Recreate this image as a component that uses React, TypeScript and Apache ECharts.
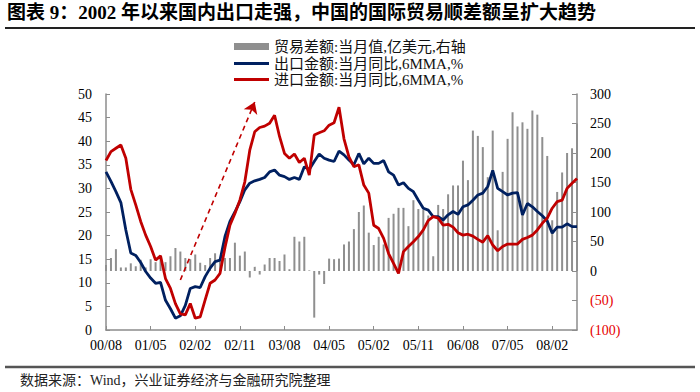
import React, { useEffect, useRef } from "react";
import * as echarts from "echarts";

// Monthly categories from 2000/08 to 2008/07
const months: string[] = [];
for (let i = 0; i < 96; i++) {
  const y = 2000 + Math.floor((7 + i) / 12);
  const m = ((7 + i) % 12) + 1;
  months.push(`${String(y % 100).padStart(2, "0")}/${String(m).padStart(2, "0")}`);
}

const seriesNames = [
  "贸易差额:当月值,亿美元,右轴",
  "出口金额:当月同比,6MMA,%",
  "进口金额:当月同比,6MMA,%",
];

// 贸易差额 (亿美元, right axis)
const tradeBalance = [
  10, 22, 37, 6, 6, 13, 8, 19, 6, 20, 15, 22,
  15, 25, 39, 33, 22, 20, 28, 14, 10, 22, 30, 22,
  22, 22, 48, 26, 33, -11, 7, -6, 11, 22, 22, 17,
  28, 3, 58, 50, 58, 1, -79, -6, -22, 21, 20, 21,
  45, 50, 71, 100, 111, 65, 44, 58, 45, 90, 97, 107,
  107, 76, 120, 105, 104, 94, 25, 112, 105, 130, 145, 145,
  187, 154, 238, 229, 210, 159, 238, 69, 168, 224, 269, 245,
  252, 241, 272, 265, 227, 195, 86, 134, 167, 200, 208, 250,
];

// 出口金额 同比 6MMA (%)
const exportYoY = [
  33.5, 31.5, 29.3, 27, 21.2, 16.3, 15.8, 14.3, 12.4, 11, 9.9, 10.1,
  6.3, 4.5, 2.5, 3, 5.2, 8.8, 9.2, 9, 11.3, 13.1, 14.5, 14.8,
  19.8, 23, 25, 27.2, 29.7, 31.1, 31.6, 31.9, 32.3, 33.5, 33.9, 32.8,
  32.5, 31.9, 32.3, 31.9, 34.6, 34, 35.7, 37.3, 36.4, 36, 35.7, 37.9,
  37.1, 36, 35, 37.4, 35.2, 36.4, 35.3, 35.3, 35.9, 33.5, 32.8, 30.7,
  31.2, 30, 29.3, 27.5, 25.8, 25.4, 24, 24, 23.3, 24.4, 25.1, 24.5,
  26.1, 26.5, 27.5, 28.6, 29, 30.4, 33.8, 30, 29.3, 28.6, 29, 29.1,
  24.4, 26.8, 26.1, 25.1, 24.2, 23.1, 20.5, 21.8, 21.8, 22.5, 21.9, 21.9,
];

// 进口金额 同比 6MMA (%)
const importYoY = [
  35.9, 37.8, 38.5, 39.2, 36.4, 29.8, 26.5, 23, 20.1, 17.7, 14.8, 15.7,
  10.9, 8.8, 5.6, 3.4, 3.2, 5.6, 2.5, 2.8, 6.4, 9.9, 10.6, 12,
  17.5, 22.2, 24.7, 27.5, 31.4, 38.1, 42, 42.9, 43.2, 43.8, 45.5, 41,
  37.4, 36.4, 37.3, 35.5, 36.4, 32.8, 41.3, 41.8, 42.2, 43.4, 43.9, 47.2,
  40.5, 36.7, 34.6, 35, 30.7, 29, 22.2, 21.5, 19.4, 16.2, 14.1, 12,
  16.6, 17.7, 18.7, 19.8, 21.2, 23.2, 24, 23.7, 22.2, 22.4, 21.8, 20.6,
  20.1, 20.3, 19.9, 19.2, 18.6, 20, 18, 16.8, 17.7, 18.2, 18.2, 18.2,
  19.2, 19.6, 20.1, 21.2, 22.6, 23.7, 25.8, 27.2, 27.5, 30, 31.1, 32.1,
];

// Dashed arrow annotation (category index, left-axis value)
const arrowStart = { idx: 15, value: 10.6 };
const arrowEnd = { idx: 30, value: 48.3 };

const SERIF = '"Liberation Serif", "Times New Roman", "Noto Sans CJK SC", serif';
const CJK = '"Liberation Serif", "Noto Sans CJK SC", serif';

export default function App() {
  const ref = useRef<HTMLDivElement>(null);

  useEffect(() => {
    if (!ref.current) return;
    const chart = echarts.init(ref.current, undefined, { renderer: "svg" });
    const axisColor = "#8c8c8c";
    const legendBase = {
      left: 229,
      itemWidth: 35,
      icon: "rect",
      textStyle: { fontSize: 15, color: "#111", fontFamily: CJK },
      selectedMode: false,
    };
    chart.setOption({
      animation: false,
      backgroundColor: "#fff",
      grid: { left: 106, right: 123, top: 94, bottom: 62 },
      legend: [
        { ...legendBase, top: 34, itemHeight: 7, data: [seriesNames[0]] },
        { ...legendBase, top: 51, itemHeight: 3, data: [seriesNames[1]] },
        { ...legendBase, top: 67, itemHeight: 3, data: [seriesNames[2]] },
      ],
      xAxis: {
        type: "category",
        data: months,
        boundaryGap: false,
        axisLine: { show: true, lineStyle: { color: axisColor, width: 1.5 } },
        axisTick: { show: true, inside: true, length: 4, interval: 8, lineStyle: { color: axisColor } },
        axisLabel: { interval: 8, fontSize: 14, color: "#000", fontFamily: SERIF, margin: 8 },
        splitLine: { show: false },
      },
      yAxis: [
        {
          type: "value",
          min: 0,
          max: 50,
          interval: 5,
          axisLine: { show: true, lineStyle: { color: axisColor, width: 1.5 } },
          axisTick: { show: true, inside: true, length: 4, lineStyle: { color: axisColor } },
          axisLabel: { fontSize: 14, color: "#000", fontFamily: SERIF, margin: 14 },
          splitLine: { show: false },
        },
        {
          type: "value",
          min: -100,
          max: 300,
          interval: 50,
          position: "right",
          axisLine: { show: true, lineStyle: { color: axisColor, width: 1.5 } },
          axisTick: { show: true, inside: true, length: 5, lineStyle: { color: axisColor } },
          axisLabel: {
            fontSize: 14,
            fontFamily: SERIF,
            margin: 13,
            formatter: (v: number) => (v < 0 ? `(${-v})` : `${v}`),
            color: (v: any) => (Number(v) < 0 ? "#e60000" : "#000"),
          },
          splitLine: { show: false },
        },
      ],
      series: [
        {
          name: seriesNames[0],
          type: "bar",
          yAxisIndex: 1,
          data: tradeBalance,
          barWidth: 2,
          itemStyle: { color: "#8f8f8f" },
          z: 1,
        },
        {
          name: seriesNames[1],
          type: "line",
          yAxisIndex: 0,
          data: exportYoY,
          symbol: "none",
          lineStyle: { color: "#002060", width: 2.8 },
          itemStyle: { color: "#002060" },
          z: 3,
        },
        {
          name: seriesNames[2],
          type: "line",
          yAxisIndex: 0,
          data: importYoY,
          symbol: "none",
          lineStyle: { color: "#c00000", width: 2.8 },
          itemStyle: { color: "#c00000" },
          z: 4,
          markLine: {
            silent: true,
            symbol: ["none", "arrow"],
            symbolSize: 11,
            label: { show: false },
            lineStyle: { type: [5, 4], color: "#c00000", width: 1.6 },
            data: [
              [
                { coord: [months[arrowStart.idx], arrowStart.value] },
                { coord: [months[arrowEnd.idx], arrowEnd.value] },
              ],
            ],
          },
        },
      ],
      graphic: [
        {
          type: "text",
          left: 7,
          top: 3,
          style: {
            text: "图表 9：2002 年以来国内出口走强，中国的国际贸易顺差额呈扩大趋势",
            font: `bold 19px ${CJK}`,
            fill: "#000",
          },
        },
        {
          type: "line",
          shape: { x1: 5, y1: 28, x2: 695, y2: 28 },
          style: { stroke: "#222", lineWidth: 2 },
        },
        {
          type: "line",
          shape: { x1: 5, y1: 367, x2: 695, y2: 367 },
          style: { stroke: "#555", lineWidth: 2.5 },
        },
        {
          type: "text",
          left: 20,
          top: 373,
          style: {
            text: "数据来源：Wind，兴业证券经济与金融研究院整理",
            font: `14px ${CJK}`,
            fill: "#222",
          },
        },
      ],
    });
    return () => chart.dispose();
  }, []);

  return (
    <div
      ref={ref}
      style={{ position: "fixed", left: 0, top: 0, width: 700, height: 392 }}
    />
  );
}
